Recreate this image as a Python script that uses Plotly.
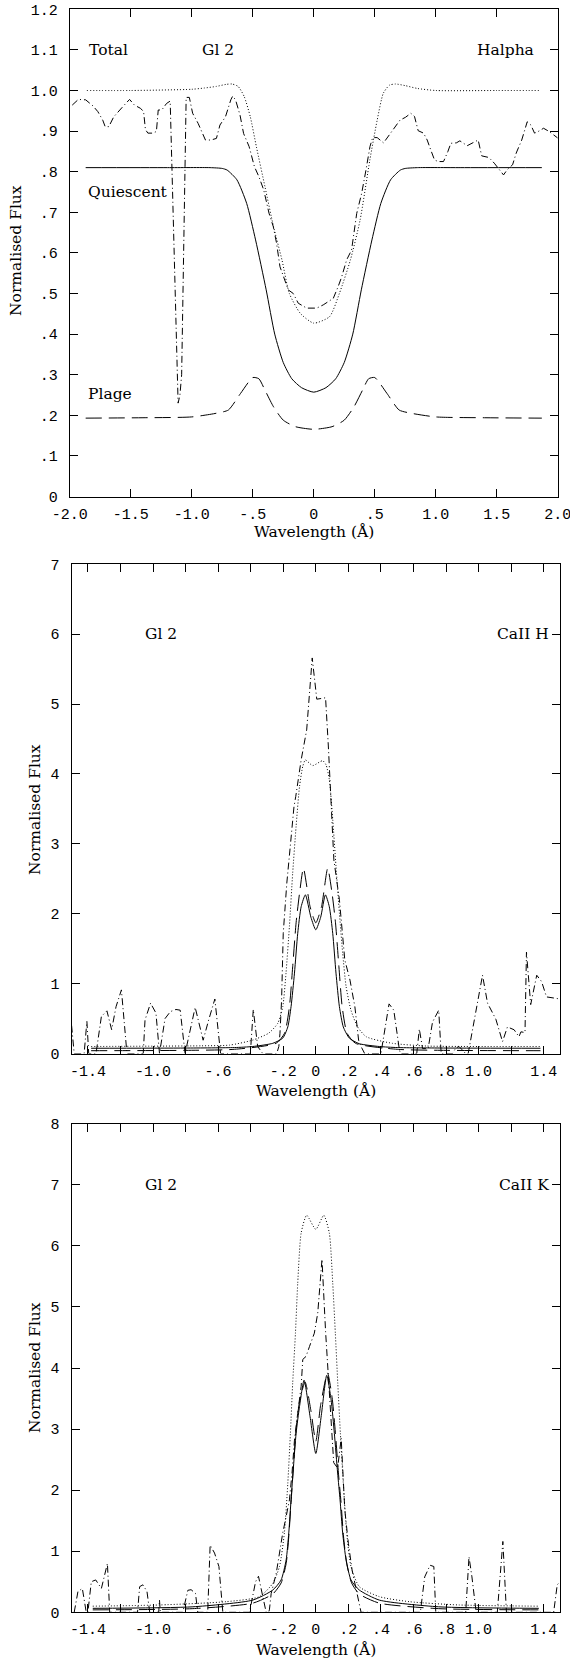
import plotly.graph_objects as go

# ---------------- Panel 1 : H-alpha ----------------
ha_total_x = [-1.86, -1.5, -1.0, -0.9, -0.8, -0.72, -0.67, -0.62, -0.57, -0.52, -0.47, -0.40, -0.33, -0.26,
              -0.20, -0.11, 0.0, 0.13, 0.21, 0.30, 0.38, 0.46, 0.52, 0.57, 0.62, 0.67, 0.75, 0.85, 1.0, 1.5, 1.86]
ha_total_y = [1.0, 1.0, 1.003, 1.006, 1.01, 1.015, 1.016, 1.01, 0.985, 0.935, 0.861, 0.763, 0.665, 0.582,
              0.50, 0.451, 0.427, 0.443, 0.50, 0.582, 0.681, 0.829, 0.927, 0.993, 1.013, 1.016, 1.012, 1.005, 1.0, 1.0, 1.0]

ha_quiet_x = [-1.87, -1.2, -0.85, -0.75, -0.71, -0.63, -0.55, -0.477, -0.39, -0.32, -0.25, -0.18, -0.10, 0.0,
              0.10, 0.18, 0.25, 0.32, 0.39, 0.477, 0.55, 0.63, 0.71, 0.75, 0.85, 1.2, 1.87]
ha_quiet_y = [0.81, 0.81, 0.81, 0.808, 0.804, 0.78, 0.722, 0.632, 0.509, 0.40, 0.33, 0.29, 0.268, 0.257,
              0.268, 0.29, 0.33, 0.40, 0.509, 0.632, 0.722, 0.78, 0.804, 0.808, 0.81, 0.81, 0.81]

ha_plage_x = [-1.87, -1.4, -1.0, -0.8, -0.7, -0.6, -0.5, -0.45, -0.4, -0.33, -0.25, -0.15, 0.0,
              0.15, 0.25, 0.33, 0.4, 0.45, 0.5, 0.6, 0.7, 0.8, 1.0, 1.4, 1.87]
ha_plage_y = [0.193, 0.194, 0.196, 0.205, 0.213, 0.254, 0.293, 0.29, 0.262, 0.221, 0.188, 0.172, 0.1655,
              0.172, 0.188, 0.221, 0.262, 0.29, 0.293, 0.254, 0.213, 0.205, 0.196, 0.194, 0.193]

ha_obs_x = [-1.98, -1.93, -1.87, -1.81, -1.77, -1.73, -1.71, -1.68, -1.64, -1.59, -1.56, -1.51, -1.47, -1.42,
            -1.395, -1.38, -1.36, -1.32, -1.29, -1.275, -1.246, -1.207, -1.177, -1.112, -1.097, -1.083, -1.046,
            -1.02, -0.993, -0.948, -0.888, -0.843, -0.798, -0.769, -0.724, -0.68, -0.665, -0.641, -0.605,
            -0.575, -0.53, -0.486, -0.45, -0.41, -0.367, -0.332, -0.305, -0.277, -0.25, -0.209, -0.168,
            -0.127, -0.058, 0.024, 0.078, 0.16, 0.20, 0.229, 0.27, 0.31, 0.352, 0.393, 0.428, 0.461, 0.483,
            0.52, 0.572, 0.632, 0.661, 0.707, 0.752, 0.796, 0.826, 0.856, 0.90, 0.93, 0.96, 0.99, 1.02, 1.064,
            1.10, 1.124, 1.169, 1.198, 1.258, 1.30, 1.348, 1.377, 1.436, 1.48, 1.526, 1.556, 1.586, 1.63, 1.66,
            1.705, 1.75, 1.78, 1.81, 1.84, 1.884, 1.93, 2.0]
ha_obs_y = [0.964, 0.978, 0.977, 0.962, 0.948, 0.927, 0.911, 0.911, 0.935, 0.953, 0.962, 0.978, 0.964, 0.956,
            0.948, 0.904, 0.895, 0.895, 0.899, 0.952, 0.952, 0.968, 0.974, 0.23, 0.25, 0.30, 0.983,
            0.983, 0.944, 0.919, 0.878, 0.878, 0.882, 0.915, 0.935, 0.977, 0.986, 0.977, 0.94,
            0.894, 0.862, 0.812, 0.788, 0.755, 0.698, 0.665, 0.624, 0.566, 0.541, 0.509, 0.50,
            0.476, 0.464, 0.464, 0.472, 0.488, 0.517, 0.541, 0.583, 0.607, 0.697, 0.747, 0.804, 0.862, 0.884,
            0.884, 0.871, 0.895, 0.907, 0.927, 0.934, 0.944, 0.936, 0.901, 0.895, 0.878, 0.853, 0.829, 0.825, 0.825,
            0.85, 0.87, 0.871, 0.876, 0.864, 0.87, 0.878, 0.839, 0.835, 0.821, 0.805, 0.792, 0.805, 0.817, 0.846,
            0.878, 0.923, 0.915, 0.895, 0.899, 0.907, 0.899, 0.883]

# ---------------- Panel 2 : CaII H ----------------
cah_total_x = [-1.38, -1.0, -0.7, -0.53, -0.39, -0.29, -0.234, -0.203, -0.183, -0.162, -0.142, -0.121, -0.10,
               -0.08, -0.064, -0.019, 0.042, 0.063, 0.083, 0.104, 0.124, 0.145, 0.165, 0.186, 0.216, 0.257,
               0.31, 0.47, 0.68, 1.0, 1.38]
cah_total_y = [0.10, 0.105, 0.11, 0.12, 0.19, 0.29, 0.43, 0.67, 1.15, 1.82, 2.58, 3.25, 3.82,
               4.11, 4.20, 4.12, 4.19, 4.13, 3.92, 3.35, 2.68, 2.01, 1.44, 0.96, 0.62, 0.38,
               0.24, 0.146, 0.107, 0.10, 0.10]

cah_quiet_x = [-1.38, -0.8, -0.5, -0.387, -0.264, -0.203, -0.172, -0.152, -0.131, -0.111, -0.09, -0.064,
               -0.03, 0.0, 0.03, 0.059, 0.083, 0.104, 0.124, 0.145, 0.169, 0.206, 0.267, 0.39, 0.5, 0.8, 1.38]
cah_quiet_y = [0.075, 0.078, 0.085, 0.10, 0.146, 0.22, 0.38, 0.67, 1.15, 1.72, 2.10, 2.27,
               1.95, 1.77, 1.95, 2.27, 2.10, 1.72, 1.15, 0.67, 0.38, 0.22, 0.14, 0.10, 0.085, 0.078, 0.075]

cah_plage_x = [-1.38, -0.8, -0.5, -0.244, -0.192, -0.162, -0.142, -0.121, -0.10, -0.076, -0.035, 0.0,
               0.035, 0.073, 0.10, 0.121, 0.142, 0.162, 0.192, 0.244, 0.5, 0.8, 1.38]
cah_plage_y = [0.04, 0.045, 0.06, 0.146, 0.29, 0.67, 1.24, 1.87, 2.29, 2.65, 2.10, 1.87,
               2.10, 2.65, 2.29, 1.87, 1.24, 0.67, 0.29, 0.146, 0.06, 0.045, 0.04]

cah_obs_x = [-1.50, -1.484, -1.423, -1.406, -1.395, -1.35, -1.317, -1.283, -1.254, -1.227, -1.194, -1.16,
             -1.06, -1.049, -1.015, -0.982, -0.96, -0.926, -0.893, -0.859, -0.833, -0.803, -0.741, -0.692,
             -0.658, -0.62, -0.585, -0.402, -0.384, -0.357, -0.326, -0.24, -0.227, -0.22, -0.21, -0.20,
             -0.178, -0.156, -0.134, -0.123, -0.09, -0.056, -0.022, 0.006, 0.06, 0.077, 0.093, 0.10, 0.111,
             0.145, 0.178, 0.21, 0.24, 0.263, 0.278, 0.30, 0.40, 0.45, 0.479, 0.513, 0.52, 0.62, 0.636,
             0.656, 0.69, 0.717, 0.755, 0.77, 0.84, 0.86, 0.88, 0.92, 0.936, 1.024, 1.055, 1.106, 1.147,
             1.177, 1.218, 1.248, 1.26, 1.285, 1.294, 1.32, 1.357, 1.387, 1.417, 1.50]
cah_obs_y = [0.40, 0.0, 0.0, 0.46, 0.0, 0.0, 0.53, 0.61, 0.34, 0.67, 0.91, 0.0,
             0.0, 0.48, 0.72, 0.58, 0.0, 0.50, 0.60, 0.63, 0.62, 0.0, 0.66, 0.19,
             0.48, 0.78, 0.0, 0.0, 0.63, 0.10, 0.0, 0.0, 0.10, 0.29, 0.77, 1.72,
             2.44, 3.01, 3.53, 3.68, 4.20, 4.63, 5.66, 5.07, 5.09, 4.40, 3.57, 3.16, 2.77,
             2.20, 1.34, 1.05, 0.67, 0.19, 0.10, 0.0, 0.0, 0.71, 0.62, 0.06, 0.0, 0.0, 0.35,
             0.07, 0.07, 0.45, 0.62, 0.0, 0.0, 0.08, 0.10, 0.0, 0.0, 1.12, 0.72, 0.49, 0.17,
             0.38, 0.34, 0.24, 0.31, 0.30, 1.45, 0.70, 1.12, 1.03, 0.81, 0.78]

# ---------------- Panel 3 : CaII K ----------------
cak_total_x = [-1.37, -0.96, -0.55, -0.346, -0.264, -0.223, -0.193, -0.172, -0.156, -0.142, -0.125, -0.111,
               -0.09, -0.056, 0.0, 0.049, 0.083, 0.104, 0.12, 0.135, 0.151, 0.169, 0.19, 0.216, 0.267, 0.39,
               0.574, 0.88, 1.37]
cak_total_y = [0.10, 0.12, 0.174, 0.256, 0.475, 0.75, 1.30, 2.11, 2.93, 3.75, 4.57, 5.39,
               6.21, 6.50, 6.27, 6.50, 6.21, 5.39, 4.57, 3.75, 2.93, 2.11, 1.30, 0.75, 0.42, 0.256,
               0.174, 0.12, 0.10]

cak_quiet_x = [-1.37, -0.755, -0.387, -0.264, -0.213, -0.182, -0.166, -0.152, -0.137, -0.121, -0.10, -0.072,
               -0.035, 0.0, 0.035, 0.067, 0.094, 0.114, 0.134, 0.149, 0.165, 0.186, 0.216, 0.267, 0.39, 0.755, 1.37]
cak_quiet_y = [0.065, 0.09, 0.20, 0.365, 0.53, 0.86, 1.30, 1.84, 2.39, 2.93, 3.37, 3.80,
               3.20, 2.60, 3.25, 3.88, 3.48, 2.93, 2.28, 1.84, 1.30, 0.86, 0.53, 0.365, 0.20, 0.09, 0.065]

cak_plage_x = [-1.37, -0.755, -0.387, -0.264, -0.213, -0.182, -0.166, -0.152, -0.137, -0.121, -0.10, -0.066,
               -0.03, 0.0, 0.03, 0.072, 0.10, 0.12, 0.14, 0.155, 0.17, 0.19, 0.22, 0.267, 0.39, 0.755, 1.37]
cak_plage_y = [0.04, 0.06, 0.15, 0.30, 0.48, 0.80, 1.24, 1.80, 2.40, 3.00, 3.45, 3.77,
               3.30, 2.80, 3.40, 3.92, 3.52, 2.95, 2.25, 1.80, 1.25, 0.80, 0.48, 0.30, 0.15, 0.06, 0.04]

cak_obs_x = [-1.484, -1.461, -1.434, -1.41, -1.40, -1.379, -1.352, -1.317, -1.28, -1.266, -1.095, -1.082,
             -1.062, -1.037, -1.02, -0.965, -0.96, -0.955, -0.817, -0.786, -0.766, -0.739, -0.725, -0.664,
             -0.649, -0.622, -0.595, -0.571, -0.407, -0.37, -0.352, -0.326, -0.305, -0.29, -0.285, -0.274,
             -0.243, -0.223, -0.203, -0.182, -0.162, -0.146, -0.131, -0.111, -0.09, -0.08, -0.06, -0.039,
             -0.009, 0.012, 0.038, 0.06, 0.075, 0.09, 0.11, 0.134, 0.156, 0.178, 0.20, 0.223, 0.256, 0.278,
             0.642, 0.669, 0.702, 0.725, 0.737, 0.921, 0.941, 0.959, 0.985, 1.115, 1.149, 1.171, 1.461,
             1.483, 1.50]
cak_obs_y = [0.0, 0.34, 0.39, 0.0, 0.0, 0.50, 0.53, 0.39, 0.80, 0.0, 0.0, 0.42,
             0.45, 0.34, 0.0, 0.0, 0.20, 0.0, 0.0, 0.36, 0.37, 0.31, 0.0, 0.0,
             1.10, 0.97, 0.75, 0.0, 0.0, 0.50, 0.59, 0.26, 0.0, 0.0, 0.04, 0.31,
             0.64, 0.97, 1.30, 1.57, 1.84, 2.28, 2.82, 3.26, 3.70, 4.14, 4.19, 4.35,
             4.57, 4.90, 5.78, 4.60, 3.90, 3.20, 2.45, 2.36, 2.85, 1.68, 1.13, 0.69, 0.26, 0.0,
             0.0, 0.58, 0.77, 0.75, 0.0, 0.0, 0.91, 0.58, 0.0, 0.0, 1.16, 0.0, 0.0,
             0.45, 0.50]

# ---------------- ticks ----------------
ha_xtick_vals = [-2.0, -1.5, -1.0, -0.5, 0.0, 0.5, 1.0, 1.5, 2.0]
ha_xtick_text = ["-2.0", "-1.5", "-1.0", "-.5", "0", ".5", "1.0", "1.5", "2.0"]
ha_ytick_vals = [0.0, 0.1, 0.2, 0.3, 0.4, 0.5, 0.6, 0.7, 0.8, 0.9, 1.0, 1.1, 1.2]
ha_ytick_text = ["0", ".1", ".2", ".3", ".4", ".5", ".6", ".7", ".8", ".9", "1.0", "1.1", "1.2"]
ca_xtick_vals = [-1.4, -1.2, -1.0, -0.8, -0.6, -0.4, -0.2, 0.0, 0.2, 0.4, 0.6, 0.8, 1.0, 1.2, 1.4]
ca_xtick_text = ["-1.4", "", "-1.0", "", "-.6", "", "-.2", "0", ".2", ".4", ".6", ".8",
                 "1.0", "", "1.4"]
cah_ytick_vals = [0, 1, 2, 3, 4, 5, 6, 7]
cak_ytick_vals = [0, 1, 2, 3, 4, 5, 6, 7, 8]

W, H = 570, 1660
FONT = "DejaVu Serif"
TICKFONT = "Liberation Mono"
FS = 15.5
TFS = 15
DOT = "1px,2px"
DASH = "16px,7px"
DASHDOT = "7px,3px,1px,3px"

fig = go.Figure()


def add(x, y, dash, ax, smooth=True):
    line = dict(color="black", width=1, dash=dash)
    if smooth:
        line.update(shape="spline", smoothing=0.6)
    fig.add_trace(go.Scatter(x=x, y=y, mode="lines", line=line, xaxis="x" + ax, yaxis="y" + ax,
                             showlegend=False, hoverinfo="skip"))


add(ha_total_x, ha_total_y, DOT, "")
add(ha_quiet_x, ha_quiet_y, "solid", "")
add(ha_plage_x, ha_plage_y, DASH, "")
add(ha_obs_x, ha_obs_y, DASHDOT, "", smooth=False)

add(cah_total_x, cah_total_y, DOT, "2")
add(cah_quiet_x, cah_quiet_y, "solid", "2")
add(cah_plage_x, cah_plage_y, DASH, "2")
add(cah_obs_x, cah_obs_y, DASHDOT, "2", smooth=False)

add(cak_total_x, cak_total_y, DOT, "3")
add(cak_quiet_x, cak_quiet_y, "solid", "3")
add(cak_plage_x, cak_plage_y, DASH, "3")
add(cak_obs_x, cak_obs_y, DASHDOT, "3", smooth=False)


def ax_style(**kw):
    d = dict(showline=True, linecolor="black", linewidth=1, mirror="ticks", ticks="inside", ticklen=8,
             tickwidth=1, tickcolor="black", showgrid=False, zeroline=False, automargin=False,
             ticklabeloverflow="allow",
             tickfont=dict(family=TICKFONT, size=TFS, color="black"), tickmode="array")
    d.update(kw)
    return d


def dx(p):
    return p / W


def dy(p):
    return 1 - p / H


fig.update_layout(
    template="none",
    width=W, height=H, margin=dict(l=0, r=0, t=0, b=0, pad=0, autoexpand=False),
    paper_bgcolor="white", plot_bgcolor="white", showlegend=False,
    xaxis=ax_style(domain=[dx(69.8), dx(557.7)], range=[-2, 2], tickvals=ha_xtick_vals, ticktext=ha_xtick_text,
                   anchor="y", ticklabelstandoff=3),
    yaxis=ax_style(domain=[dy(496.5), dy(9.3)], range=[0, 1.2], tickvals=ha_ytick_vals, ticktext=ha_ytick_text,
                   anchor="x", ticklabelstandoff=8),
    xaxis2=ax_style(domain=[dx(71.6), dx(560)], range=[-1.5, 1.5], tickvals=ca_xtick_vals, ticktext=ca_xtick_text,
                    anchor="y2", ticklabelstandoff=3),
    yaxis2=ax_style(domain=[dy(1053.5), dy(564.3)], range=[0, 7], tickvals=cah_ytick_vals,
                    anchor="x2", ticklabelstandoff=8),
    xaxis3=ax_style(domain=[dx(71.6), dx(560)], range=[-1.5, 1.5], tickvals=ca_xtick_vals, ticktext=ca_xtick_text,
                    anchor="y3", ticklabelstandoff=3),
    yaxis3=ax_style(domain=[dy(1612.3), dy(1123.7)], range=[0, 8], tickvals=cak_ytick_vals,
                    anchor="x3", ticklabelstandoff=8),
)

ann = []
tf = dict(family=FONT, size=FS, color="black")


def label(text, x, y, ax, xanchor):
    ann.append(dict(text=text, x=x, y=y, xref="x" + ax, yref="y" + ax, xanchor=xanchor, yanchor="middle",
                    showarrow=False, font=tf, borderpad=0))


label("Total", -1.85, 1.1, "", "left")
label("Gl 2", -0.784, 1.1, "", "center")
label("Halpha", 1.815, 1.1, "", "right")
label("Quiescent", -1.855, 0.75, "", "left")
label("Plage", -1.855, 0.252, "", "left")
label("Gl 2", -0.948, 6, "2", "center")
label("CaII H", 1.44, 6, "2", "right")
label("Gl 2", -0.948, 7, "3", "center")
label("CaII K", 1.44, 7, "3", "right")


def paper_text(text, px, py, angle=0):
    ann.append(dict(text=text, x=dx(px), y=dy(py), xref="paper", yref="paper", xanchor="center",
                    yanchor="middle", showarrow=False, font=tf, textangle=angle))


paper_text("Normalised Flux", 16, 251, -90)
paper_text("Normalised Flux", 35, 810, -90)
paper_text("Normalised Flux", 35, 1368, -90)
paper_text("Wavelength (\u00c5)", 314, 532)
paper_text("Wavelength (\u00c5)", 316, 1091)
paper_text("Wavelength (\u00c5)", 316, 1650)

fig.update_layout(annotations=ann)
fig.write_html("out.html", config={"displayModeBar": False, "staticPlot": True},
               post_script="document.body.style.margin='0';document.body.style.overflow='hidden';")
